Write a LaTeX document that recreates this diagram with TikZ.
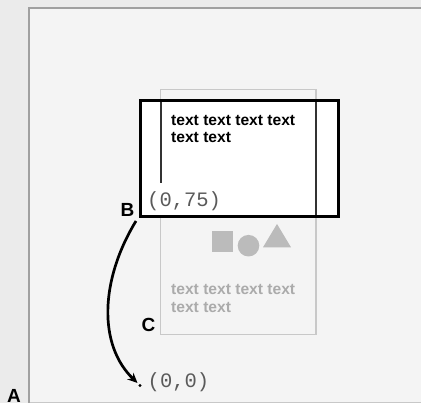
\documentclass[tikz,border=0pt]{standalone}
\usepackage{fontspec}
\setmainfont{Liberation Sans}
\newfontfamily\monof{Liberation Mono}
\usetikzlibrary{arrows.meta}
\definecolor{outerbg}{HTML}{EBEBEB}
\definecolor{innerbg}{HTML}{F4F4F4}
\definecolor{framecol}{HTML}{A0A0A0}
\definecolor{ghost}{HTML}{C8C8C8}
\definecolor{ghostshape}{HTML}{BBBBBB}
\definecolor{ghosttext}{HTML}{ABABAB}
\definecolor{codecol}{HTML}{5A5A5A}
\tikzset{
  bodytext/.style={font=\fontsize{15.6}{16.5}\selectfont\bfseries, align=left, inner sep=0pt, anchor=north west},
  codetext/.style={font=\fontsize{20.5}{20.5}\selectfont\monof, text=codecol, inner sep=0pt, anchor=west},
  lbl/.style={font=\fontsize{19}{19}\selectfont\bfseries, inner sep=0pt},
}
\begin{document}
\begin{tikzpicture}[x=1pt,y=-1pt]
\useasboundingbox (0,0) rectangle (421,403);
\fill[outerbg] (0,0) rectangle (421,403);
\fill[innerbg] (30,8) rectangle (425,402);
\draw[ghost, line width=1pt] (30,402.3) -- (425,402.3);
\draw[framecol, line width=2pt] (29,403) -- (29,8) -- (425,8);
% ghost box
\draw[ghost, line width=1.5pt] (160.7,89.3) rectangle (316,334.3);
\fill[ghostshape] (212,230.7) rectangle (232.7,252);
\fill[ghostshape] (248.5,245.7) circle (10.8);
\fill[ghostshape] (277,224) -- (291,247.3) -- (263,247.3) -- cycle;
\node[bodytext, text=ghosttext] (gt) at (171,284) {text text text text\\[1.6pt]text text};
% viewport
\draw[line width=3pt, fill=white] (140,100.3) rectangle (338,216.3);
\draw[black!80, line width=1.2pt] (161,101.8) -- (161,183);
\draw[black!80, line width=1.2pt] (316,101.8) -- (316,214.8);
\node[bodytext] (bt) at (171,115.5) {text text text text\\text text};
\node[codetext] (c75) at (147,201.5) {(0,75)};
\node[codetext] (c00) at (147.5,382.5) {(0,0)};
\fill (140,385.5) circle (1.7);
\coordinate (start) at (136,221);
\coordinate (end) at (137.5,383);
\node[lbl] (B) at (127.5,209.8) {B};
\node[lbl] (C) at (148.5,325.3) {C};
\node[lbl] (A) at (14,396.3) {A};
\draw[line width=2.7pt, -{Stealth[length=10pt,width=9pt]}] (start) .. controls (100,280) and (98,345) .. (end);
\end{tikzpicture}
\end{document}
